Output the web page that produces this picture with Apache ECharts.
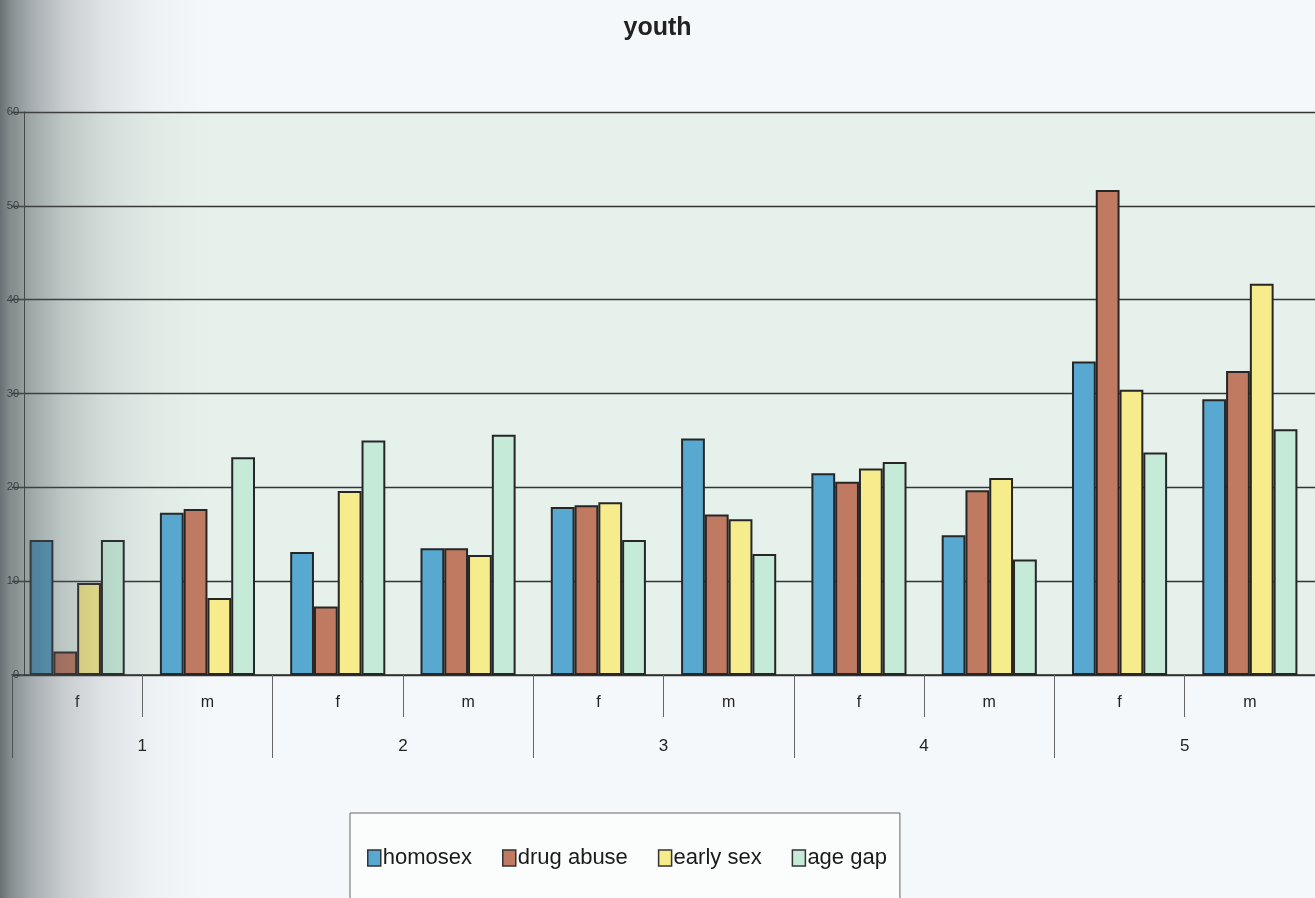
<!DOCTYPE html>
<html>
<head>
<meta charset="utf-8">
<title>youth</title>
<script src="https://cdn.jsdelivr.net/npm/echarts@6/dist/echarts.min.js"></script>
<style>
  html, body { margin: 0; padding: 0; background: #f5f8fa; }
  #chart { width: 1315px; height: 898px; }
</style>
</head>
<body>
<div id="chart"></div>
<script>
// Sex within each age group (inner axis level) and the age groups (outer level)
const sexLabels = ['f', 'm', 'f', 'm', 'f', 'm', 'f', 'm', 'f', 'm'];
const groupLabels = ['1', '2', '3', '4', '5'];
const yTicks = { min: 0, max: 60, step: 10 };

// Percentages per issue
const homosex   = [14.4, 17.3, 13.1, 13.5, 17.9, 25.2, 21.5, 14.9, 33.4, 29.4];
const drugAbuse = [2.5, 17.7, 7.3, 13.5, 18.1, 17.1, 20.6, 19.7, 51.7, 32.4];
const earlySex  = [9.8, 8.2, 19.6, 12.8, 18.4, 16.6, 22.0, 21.0, 30.4, 41.7];
const ageGap    = [14.4, 23.2, 25.0, 25.6, 14.4, 12.9, 22.7, 12.3, 23.7, 26.2];

const seriesNames = ['homosex', 'drug abuse', 'early sex', 'age gap'];
const seriesColors = ['#58a9d1', '#c07a62', '#f7ec8c', '#c6ead8'];
const seriesData = [homosex, drugAbuse, earlySex, ageGap];

const FONT = "'Liberation Sans Narrow', 'Arial Narrow', 'Liberation Sans', Arial, sans-serif";

const chart = echarts.init(document.getElementById('chart'));

chart.setOption({
  backgroundColor: '#f5f8fa',
  animation: false,
  title: {
    text: 'youth',
    left: 'center',
    top: 11,
    textStyle: { fontFamily: FONT, fontSize: 25, fontWeight: 'bold', color: '#222' }
  },
  legend: {
    data: seriesNames,
    left: 350,
    top: 813,
    orient: 'horizontal',
    padding: [34, 13, 40, 17],
    itemGap: 30,
    itemWidth: 13,
    itemHeight: 16,
    icon: 'rect',
    borderColor: '#666',
    borderWidth: 1,
    backgroundColor: '#fbfcfc',
    itemStyle: { borderColor: '#333', borderWidth: 1.5 },
    textStyle: { fontFamily: FONT, fontSize: 22, color: '#1a1a1a', padding: [0, 0, 0, -3] }
  },
  grid: {
    left: 12,
    right: 0,
    top: 112,
    bottom: 223,
    show: true,
    backgroundColor: '#e6f1ec',
    borderWidth: 0
  },
  xAxis: [
    {
      type: 'category',
      data: sexLabels,
      position: 'bottom',
      axisLine: { show: true, lineStyle: { color: '#2e2e2e', width: 1.5 } },
      axisTick: { show: true, interval: 0, length: 42, lineStyle: { color: '#666', width: 1 } },
      axisLabel: { interval: 0, margin: 20, fontFamily: FONT, fontSize: 16, color: '#222' },
      splitLine: { show: false }
    },
    {
      type: 'category',
      data: groupLabels,
      position: 'bottom',
      axisLine: { show: false },
      axisTick: { show: true, interval: 0, length: 83, lineStyle: { color: '#666', width: 1 } },
      axisLabel: { interval: 0, margin: 63, fontFamily: FONT, fontSize: 17, color: '#222' },
      splitLine: { show: false }
    }
  ],
  yAxis: {
    type: 'value',
    min: yTicks.min,
    max: yTicks.max,
    interval: yTicks.step,
    offset: -12,
    axisLine: { show: true, lineStyle: { color: '#444', width: 1 } },
    axisTick: { show: true, length: 5, lineStyle: { color: '#444' } },
    axisLabel: { margin: 5, fontFamily: FONT, fontSize: 11, color: '#333' },
    splitLine: { show: true, lineStyle: { color: '#343434', width: 1.3 } }
  },
  series: seriesNames.map((name, i) => ({
    name: name,
    type: 'bar',
    data: seriesData[i],
    barGap: '0%',
    barCategoryGap: '27%',
    itemStyle: { color: seriesColors[i], borderColor: '#262626', borderWidth: 2 }
  })),
  graphic: [
    {
      // shading along the left edge of the page
      type: 'rect',
      left: 0,
      top: 0,
      z: 100,
      silent: true,
      shape: { x: 0, y: 0, width: 210, height: 898 },
      style: {
        fill: new echarts.graphic.LinearGradient(0, 0, 1, 0, [
          { offset: 0, color: 'rgba(55,65,65,0.74)' },
          { offset: 0.05, color: 'rgba(60,70,72,0.6)' },
          { offset: 0.15, color: 'rgba(70,80,85,0.45)' },
          { offset: 0.3, color: 'rgba(80,90,95,0.28)' },
          { offset: 0.5, color: 'rgba(90,100,105,0.14)' },
          { offset: 0.72, color: 'rgba(100,110,115,0.05)' },
          { offset: 1, color: 'rgba(110,120,125,0)' }
        ])
      }
    }
  ]
});
</script>
</body>
</html>
